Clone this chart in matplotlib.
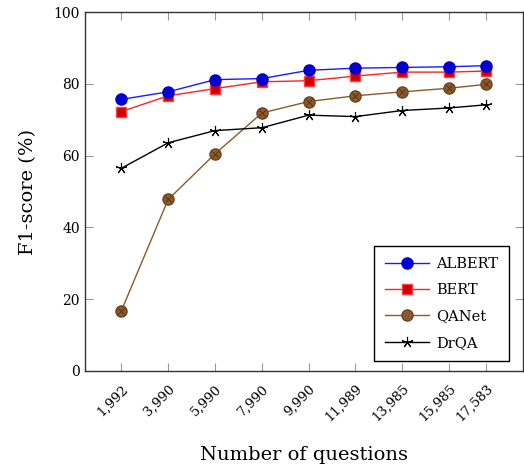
import matplotlib
matplotlib.use("Agg")
import matplotlib.pyplot as plt
from matplotlib.lines import Line2D

questions = [1992, 3990, 5990, 7990, 9990, 11989, 13985, 15985, 17583]
tick_labels = ["1,992", "3,990", "5,990", "7,990", "9,990", "11,989", "13,985", "15,985", "17,583"]
albert = [75.7, 77.8, 81.2, 81.5, 83.8, 84.4, 84.6, 84.8, 85.1]
bert = [72.3, 76.7, 78.7, 80.6, 80.9, 82.2, 83.3, 83.3, 83.6]
qanet = [16.8, 47.8, 60.5, 71.9, 75.1, 76.7, 77.8, 78.8, 79.9]
drqa = [56.5, 63.6, 67.0, 67.8, 71.3, 70.9, 72.6, 73.3, 74.2]

plt.rcParams['font.family'] = ['DejaVu Serif']
plt.rcParams['mathtext.fontset'] = 'dejavuserif'

fig = plt.figure(figsize=(5.24, 4.69), dpi=100)
ax = fig.add_axes([0.162, 0.209, 0.836, 0.765])

ax.plot(questions, albert, color='#1a1aff', lw=1.0, marker='o', ms=8,
        mfc='#0000d0', mec='#0000d0', label='ALBERT', zorder=4)
ax.plot(questions, bert, color='#ff2020', lw=1.0, marker='s', ms=7.5,
        mfc='#d00000', mec='#ff4040', label='BERT', zorder=3)
ax.plot(questions, qanet, color='#8b5a2b', lw=1.0, marker='o', ms=8,
        mfc='#8b5a2b', mec='#6b4420', label='QANet', zorder=3)
ax.plot(questions, qanet, ls='none', marker='x', ms=4.5, mew=0.6,
        mec='#4a2e14', zorder=3.5)
ax.plot(questions, drqa, color='black', lw=1.0, marker=(5, 2, 0), ms=8,
        mew=0.8, label='DrQA', zorder=3)

ax.set_xlim(433, 19142)
ax.set_ylim(0, 100)
ax.set_xticks(questions)
ax.set_xticklabels(tick_labels, rotation=45, ha='right', rotation_mode='anchor', fontsize=9.5)
ax.set_yticks([0, 20, 40, 60, 80, 100])
ax.tick_params(axis='both', direction='in', top=True, right=True, length=6,
               color='#999999', labelsize=10)
ax.tick_params(axis='x', pad=8, labelsize=9.5)
for s in ax.spines.values():
    s.set_color('#333333')
    s.set_linewidth(1.0)

ax.set_ylabel('F1-score (%)', fontsize=14, labelpad=12)
ax.set_xlabel('Number of questions', fontsize=14, labelpad=16)

handles = [
    Line2D([], [], color='#1a1aff', lw=1.0, marker='o', ms=8, mfc='#0000d0', mec='#0000d0'),
    Line2D([], [], color='#ff2020', lw=1.0, marker='s', ms=7.5, mfc='#d00000', mec='#ff4040'),
    Line2D([], [], color='#8b5a2b', lw=1.0, marker='o', ms=8, mfc='#8b5a2b', mec='#6b4420'),
    Line2D([], [], color='black', lw=1.0, marker=(5, 2, 0), ms=8, mew=0.8),
]
leg = ax.legend(handles, ['ALBERT', 'BERT', 'QANet', 'DrQA'], loc='lower right',
                bbox_to_anchor=(0.968, 0.028), borderaxespad=0, fancybox=False,
                framealpha=1, edgecolor='black', fontsize=10.5, handlelength=3,
                handletextpad=0.5, borderpad=0.75, labelspacing=0.85)
leg.get_frame().set_linewidth(1.0)

fig.savefig('out.png', dpi=100)
